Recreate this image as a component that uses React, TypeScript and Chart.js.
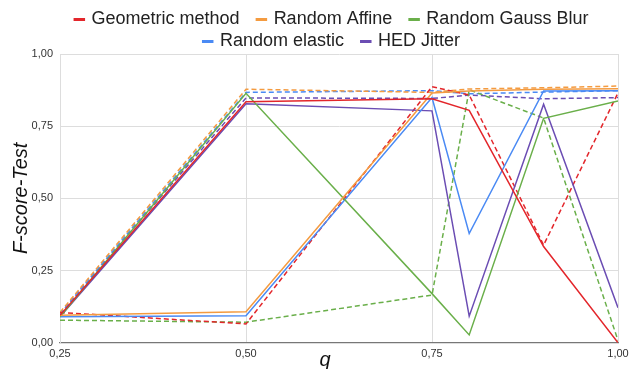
import React, { useEffect, useRef } from "react";
import { Chart, registerables } from "chart.js";

Chart.register(...registerables);

const qValues = [0.25, 0.5, 0.75, 0.8, 0.9, 1.0];
const xTicks = [0.25, 0.5, 0.75, 1.0];

const seriesNames = ["Geometric method", "Random Affine", "Random Gauss Blur", "Random elastic", "HED Jitter"];
const seriesColors = ["#e3262b", "#f49b40", "#6aaf4a", "#4a8af4", "#6b4db3"];
const legendRows = [[0, 1, 2], [3, 4]];

const geometricSolid = [0.095, 0.835, 0.845, 0.805, 0.333, 0.0];
const affineSolid = [0.095, 0.107, 0.865, 0.872, 0.878, 0.88];
const gaussSolid = [0.09, 0.864, 0.17, 0.027, 0.777, 0.837];
const elasticSolid = [0.09, 0.093, 0.849, 0.378, 0.872, 0.873];
const hedSolid = [0.09, 0.828, 0.803, 0.092, 0.826, 0.121];

const geometricDashed = [0.105, 0.065, 0.887, 0.858, 0.338, 0.865];
const affineDashed = [0.105, 0.878, 0.867, 0.879, 0.883, 0.889];
const gaussDashed = [0.078, 0.071, 0.165, 0.876, 0.778, 0.008];
const elasticDashed = [0.1, 0.867, 0.873, 0.862, 0.868, 0.873];
const hedDashed = [0.1, 0.848, 0.846, 0.858, 0.845, 0.849];

const solidSeries = [geometricSolid, affineSolid, gaussSolid, elasticSolid, hedSolid];
const dashedSeries = [geometricDashed, affineDashed, gaussDashed, elasticDashed, hedDashed];

const FONT = "'Liberation Sans', Arial, sans-serif";
const fmt = (v: number) => Number(v).toFixed(2).replace(".", ",");

export default function App() {
  const ref = useRef<HTMLCanvasElement | null>(null);
  useEffect(() => {
    if (!ref.current) return;
    const toPts = (arr: number[]) => arr.map((y, i) => ({ x: qValues[i], y }));
    const datasets: any[] = [];
    solidSeries.forEach((s, i) => {
      datasets.push({
        label: seriesNames[i],
        data: toPts(s),
        borderColor: seriesColors[i],
        backgroundColor: seriesColors[i],
        borderWidth: 1.5,
        pointRadius: 0,
        tension: 0,
      });
    });
    dashedSeries.forEach((s, i) => {
      datasets.push({
        label: seriesNames[i] + " (test)",
        data: toPts(s),
        borderColor: seriesColors[i],
        backgroundColor: seriesColors[i],
        borderWidth: 1.5,
        borderDash: [5, 3],
        pointRadius: 0,
        tension: 0,
      });
    });

    const customLegend = {
      id: "customLegend",
      afterDraw(chart: any) {
        const ctx = chart.ctx;
        ctx.save();
        ctx.font = `18px ${FONT}`;
        ctx.textBaseline = "middle";
        ctx.textAlign = "left";
        const markW = 11.5, markGap = 6.5, itemGap = 16;
        const centerX = 331;
        const rowY = [19.5, 41.5];
        legendRows.forEach((row, r) => {
          const widths = row.map((i) => markW + markGap + ctx.measureText(seriesNames[i]).width);
          const total = widths.reduce((a, b) => a + b, 0) + itemGap * (row.length - 1);
          let x = centerX - total / 2;
          row.forEach((i, k) => {
            ctx.fillStyle = seriesColors[i];
            ctx.fillRect(x, rowY[r] - 1.5, markW, 3);
            ctx.fillStyle = "#222";
            ctx.fillText(seriesNames[i], x + markW + markGap, rowY[r]);
            x += widths[k] + itemGap;
          });
        });
        // x axis title
        ctx.font = `italic 20px ${FONT}`;
        ctx.textAlign = "center";
        ctx.textBaseline = "alphabetic";
        ctx.fillStyle = "#111";
        ctx.fillText("q", 325, 366);
        ctx.restore();
      },
    };

    const chart = new Chart(ref.current, {
      type: "line",
      data: { datasets },
      plugins: [customLegend],
      options: {
        animation: false,
        responsive: false,
        maintainAspectRatio: false,
        layout: { padding: { left: 0, right: 11, top: 54, bottom: 0 } },
        plugins: {
          tooltip: { enabled: false },
          legend: { display: false },
        },
        scales: {
          x: {
            type: "linear",
            min: 0.25,
            max: 1.0,
            afterBuildTicks: (scale: any) => {
              scale.ticks = xTicks.map((v) => ({ value: v }));
            },
            afterFit: (scale: any) => {
              scale.height = 26.3;
              scale.paddingLeft = 0;
              scale.paddingRight = 0;
            },
            ticks: {
              callback: (v: any) => fmt(v),
              color: "#333",
              font: { family: FONT, size: 11 },
              padding: 5,
              maxRotation: 0,
            },
            grid: { color: "#dddddd", drawTicks: false },
            border: { color: "#777777", width: 1.2 },
          },
          y: {
            min: 0,
            max: 1,
            ticks: {
              stepSize: 0.25,
              callback: (v: any) => fmt(v),
              color: "#333",
              font: { family: FONT, size: 11 },
              padding: 7,
            },
            afterFit: (scale: any) => {
              scale.width = 60;
              scale.paddingTop = 0;
              scale.paddingBottom = 0;
            },
            grid: { color: "#dddddd", drawTicks: false },
            border: { color: "#dddddd" },
            title: {
              display: true,
              text: "F-score-Test",
              color: "#111",
              font: { family: FONT, size: 20, style: "italic" },
              padding: { top: 9, bottom: 0 },
            },
          },
        },
      },
    });
    return () => chart.destroy();
  }, []);
  return (
    <div style={{ position: "absolute", left: 0, top: 0, width: 629, height: 369, background: "#fff" }}>
      <canvas ref={ref} width={629} height={369} style={{ width: 629, height: 369 }} />
    </div>
  );
}
